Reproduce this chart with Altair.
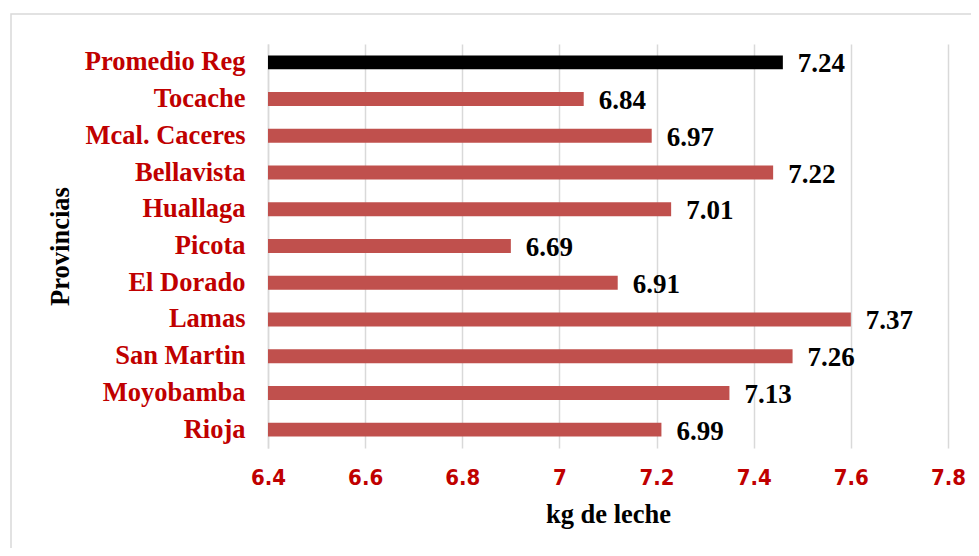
import altair as alt
import pandas as pd

categories = ["Promedio Reg", "Tocache", "Mcal. Caceres", "Bellavista", "Huallaga",
              "Picota", "El Dorado", "Lamas", "San Martin", "Moyobamba", "Rioja"]
bar_values = [7.46, 7.05, 7.19, 7.44, 7.23, 6.90, 7.12, 7.60, 7.48, 7.35, 7.21]
label_values = [7.24, 6.84, 6.97, 7.22, 7.01, 6.69, 6.91, 7.37, 7.26, 7.13, 6.99]
bar_colors = ["#000000"] + ["#C0504D"] * 10
x_ticks = [6.4, 6.6, 6.8, 7.0, 7.2, 7.4, 7.6, 7.8]
x_min = 6.4

df = pd.DataFrame({
    "prov": categories,
    "bar": bar_values,
    "label": [f"{v:.2f}" for v in label_values],
    "color": bar_colors,
})

serif = "Liberation Serif"

y_enc = alt.Y("prov:N", sort=categories, title="Provincias",
              scale=alt.Scale(paddingInner=0.62, paddingOuter=0.31),
              axis=alt.Axis(labelFont=serif, labelFontWeight="bold", labelFontSize=26.5,
                            labelColor="#C00000", labelPadding=23, ticks=False,
                            domain=True, domainColor="#d9d9d9", domainWidth=1.5,
                            titleFont=serif, titleFontWeight="bold", titleFontSize=26.5,
                            titleColor="#000000", titlePadding=10))
x_enc = alt.X("bar:Q", title="kg de leche",
              scale=alt.Scale(domain=[6.4, 7.8], nice=False, zero=False),
              axis=alt.Axis(values=x_ticks, format=".1~f", grid=True, gridColor="#d9d9d9",
                            gridWidth=1.5, domain=False, ticks=False, labelFlush=False,
                            labelFont="DejaVu Sans Condensed, Lato", labelFontWeight="bold",
                            labelFontSize=22, labelColor="#C00000", labelPadding=19,
                            titleFont=serif, titleFontWeight="bold", titleFontSize=26.5,
                            titleColor="#000000", titlePadding=13))

frame = alt.Chart(df).mark_rect(fill=None, stroke="#d9d9d9", strokeWidth=1.5).encode(
    x=alt.value(-257), x2=alt.value(740), y=alt.value(-30), y2=alt.value(540)
).transform_filter(alt.datum.prov == "Promedio Reg")

bars = alt.Chart(df).mark_bar().encode(
    x=x_enc, x2=alt.datum(x_min), y=y_enc, color=alt.Color("color:N", scale=None)
)
text = alt.Chart(df).mark_text(align="left", baseline="middle", dx=15, dy=2,
                               font=serif, fontWeight="bold", fontSize=27,
                               color="#000000").encode(
    x=alt.X("bar:Q"), y=alt.Y("prov:N", sort=categories), text="label:N"
)

chart = (frame + bars + text).properties(
    width=680, height=404,
    autosize=alt.AutoSizeParams(type="none"),
    padding={"left": 260, "top": 36, "right": 23, "bottom": 100},
    background="white",
).configure_view(stroke=None)

chart.save("out.html", embed_options={"renderer": "svg", "actions": False})
